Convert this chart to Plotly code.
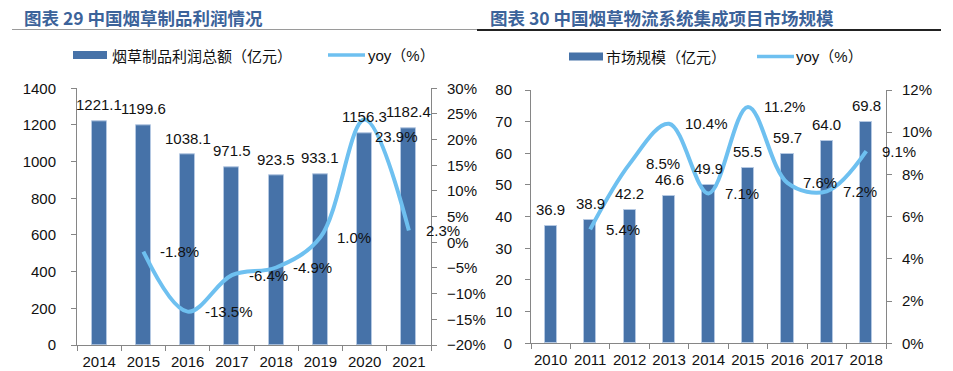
import plotly.graph_objects as go

# ---------------- data ----------------
years_a = ['2014', '2015', '2016', '2017', '2018', '2019', '2020', '2021']
profit = [1221.1, 1199.6, 1038.1, 971.5, 923.5, 933.1, 1156.3, 1182.4]
yoy_a_years = ['2015', '2016', '2017', '2018', '2019', '2020', '2021']
yoy_a = [-1.8, -13.5, -6.4, -4.9, 1.0, 23.9, 2.3]

years_b = ['2010', '2011', '2012', '2013', '2014', '2015', '2016', '2017', '2018']
market = [36.9, 38.9, 42.2, 46.6, 49.9, 55.5, 59.7, 64.0, 69.8]
yoy_b_years = ['2011', '2012', '2013', '2014', '2015', '2016', '2017', '2018']
yoy_b = [5.4, 8.5, 10.4, 7.1, 11.2, 7.6, 7.2, 9.1]

title_a = '图表 29 中国烟草制品利润情况'
title_b = '图表 30 中国烟草物流系统集成项目市场规模'
legend_bar_a = '烟草制品利润总额（亿元）'
legend_bar_b = '市场规模（亿元）'
legend_line = 'yoy（%）'

# ---------------- style ----------------
W, H = 953, 371
BAR = '#4672A8'
BAR_EDGE = '#B4C8E2'
LINE = '#6EC0F0'
AXIS = '#868686'
TXT = '#111111'
TITLE_C = '#3C639A'
FONT = 'Liberation Sans, Arial, Noto Sans CJK SC'
CJK = 'Noto Sans CJK SC, Liberation Sans'


def fx(p):
    return p / W


def fy(p):
    return 1 - p / H


fig = go.Figure()

fig.add_trace(go.Bar(x=years_a, y=profit, xaxis='x', yaxis='y', width=0.34,
                     marker=dict(color=BAR, line=dict(color=BAR_EDGE, width=1)),
                     showlegend=False, hoverinfo='skip'))
fig.add_trace(go.Scatter(x=yoy_a_years, y=yoy_a, xaxis='x', yaxis='y2', mode='lines',
                         line=dict(color=LINE, width=4, shape='spline', smoothing=1),
                         showlegend=False, hoverinfo='skip'))
fig.add_trace(go.Bar(x=years_b, y=market, xaxis='x2', yaxis='y3', width=0.31,
                     marker=dict(color=BAR, line=dict(color=BAR_EDGE, width=1)),
                     showlegend=False, hoverinfo='skip'))
fig.add_trace(go.Scatter(x=yoy_b_years, y=yoy_b, xaxis='x2', yaxis='y4', mode='lines',
                         line=dict(color=LINE, width=4, shape='spline', smoothing=1),
                         showlegend=False, hoverinfo='skip'))

tickfont = dict(family=FONT, size=15, color=TXT)
common_x = dict(type='category', tickson='boundaries', ticks='outside', ticklen=5,
                tickcolor=AXIS, showline=True, linecolor=AXIS, linewidth=1, tickangle=0,
                showgrid=False, zeroline=False, tickfont=tickfont, ticklabelstandoff=3,
                automargin=False)
common_y = dict(ticks='outside', ticklen=5, tickcolor=AXIS, showline=True, linecolor=AXIS,
                linewidth=1, showgrid=False, zeroline=False, tickfont=tickfont,
                automargin=False)

ya0, ya1 = fy(345), fy(88.3)
yb0, yb1 = fy(343.3), fy(90)

fig.update_layout(
    template='none',
    width=W, height=H, autosize=False,
    margin=dict(l=0, r=0, t=0, b=0, pad=0),
    paper_bgcolor='white', plot_bgcolor='white',
    bargap=0,
    xaxis=dict(domain=[fx(77), fx(431)], anchor='y', range=[-0.5, len(years_a) - 0.5], **common_x),
    yaxis=dict(domain=[ya0, ya1], anchor='x', range=[0, 1400], dtick=200,
               ticklabelstandoff=12, **common_y),
    yaxis2=dict(overlaying='y', side='right', anchor='x', range=[-20, 30], dtick=5,
                ticksuffix='%', ticklabelstandoff=7, **common_y),
    xaxis2=dict(domain=[fx(531), fx(886)], anchor='y3', range=[-0.5, len(years_b) - 0.5], **common_x),
    yaxis3=dict(domain=[yb0, yb1], anchor='x2', range=[0, 80], dtick=10,
                ticklabelstandoff=10, **common_y),
    yaxis4=dict(overlaying='y3', side='right', anchor='x2', range=[0, 12], dtick=2,
                ticksuffix='%', ticklabelstandoff=7, **common_y),
)

ann = []
shapes = []
lab_font = dict(family=FONT, size=15, color=TXT)

# bar value labels (category axes: x given as category index)
for i, v in enumerate(profit):
    ann.append(dict(x=i, y=v, xref='x', yref='y', text=f'{v:.1f}', showarrow=False,
                    yshift=16.5, font=lab_font))
for i, v in enumerate(market):
    ann.append(dict(x=i, y=v, xref='x2', yref='y3', text=f'{v:.1f}', showarrow=False,
                    yshift=16.5, font=lab_font))

# line value labels (to the right of each point)
special = {5: (8, -17)}  # label moved manually in the original
for i, (cat, v) in enumerate(zip(yoy_a_years, yoy_a)):
    xs, ys = special.get(i, (15, 0))
    ann.append(dict(x=years_a.index(cat), y=v, xref='x', yref='y2', text=f'{v:.1f}%',
                    showarrow=False, xanchor='left', xshift=xs, yshift=ys, font=lab_font))
for cat, v in zip(yoy_b_years, yoy_b):
    ann.append(dict(x=years_b.index(cat), y=v, xref='x2', yref='y4', text=f'{v:.1f}%',
                    showarrow=False, xanchor='left', xshift=14, font=lab_font))

# titles
title_font = dict(family=CJK, size=17.5, color=TITLE_C, weight='bold')
ann.append(dict(x=fx(22), y=fy(17), xref='paper', yref='paper', text=f'<b>{title_a}</b>',
                showarrow=False, xanchor='left', yanchor='middle', font=title_font))
ann.append(dict(x=fx(488), y=fy(17), xref='paper', yref='paper', text=f'<b>{title_b}</b>',
                showarrow=False, xanchor='left', yanchor='middle', font=title_font))
shapes.append(dict(type='line', xref='paper', yref='paper', x0=fx(12), x1=fx(477),
                   y0=fy(29.5), y1=fy(29.5), line=dict(color='#9A9A9A', width=1)))
shapes.append(dict(type='line', xref='paper', yref='paper', x0=fx(477), x1=fx(941),
                   y0=fy(30), y1=fy(30), line=dict(color='#222222', width=2)))

# legends
leg_font = dict(family=CJK, size=15, color=TXT)


def legend(xbar, xtext1, xline, xtext2, yc, label1):
    shapes.append(dict(type='rect', xref='paper', yref='paper', x0=fx(xbar), x1=fx(xbar + 34),
                       y0=fy(yc + 4), y1=fy(yc - 4), fillcolor=BAR, line=dict(width=0)))
    ann.append(dict(x=fx(xtext1), y=fy(yc), xref='paper', yref='paper', text=label1,
                    showarrow=False, xanchor='left', yanchor='middle', font=leg_font))
    shapes.append(dict(type='line', xref='paper', yref='paper', x0=fx(xline), x1=fx(xline + 37),
                       y0=fy(yc), y1=fy(yc), line=dict(color=LINE, width=3.5)))
    ann.append(dict(x=fx(xtext2), y=fy(yc), xref='paper', yref='paper', text=legend_line,
                    showarrow=False, xanchor='left', yanchor='middle',
                    font=dict(family=FONT + ', Noto Sans CJK SC', size=15, color=TXT)))


legend(73, 110, 328, 366, 55, legend_bar_a)
legend(569, 604, 757, 794, 56.5, legend_bar_b)

fig.update_layout(annotations=ann, shapes=shapes)
fig.write_html('out.html',
               config={'displayModeBar': False},
               post_script="document.body.style.margin='0';document.body.style.overflow='hidden';")
